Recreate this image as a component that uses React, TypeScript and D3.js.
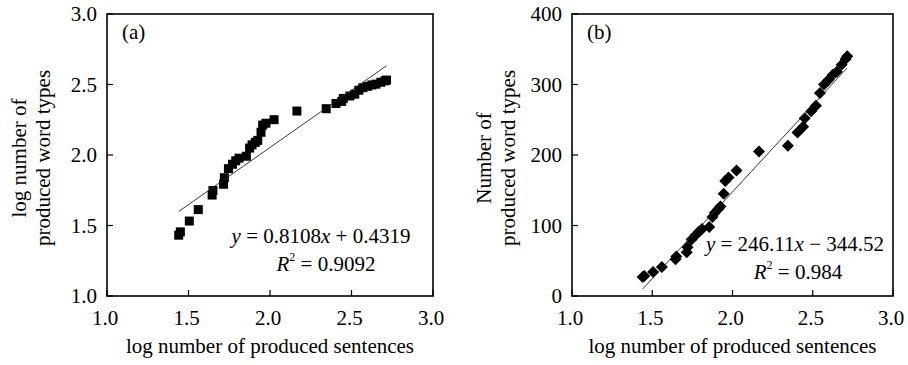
import React from "react";
import * as d3 from "d3";

// Data (x: log number of produced sentences, y: number of produced word types)
const sentencesLog = [1.44, 1.45, 1.505, 1.56, 1.645, 1.65, 1.715, 1.72, 1.745, 1.77, 1.79, 1.81, 1.855, 1.875, 1.89, 1.91, 1.925, 1.945, 1.955, 1.975, 2.025, 2.165, 2.345, 2.405, 2.44, 2.45, 2.49, 2.52, 2.545, 2.57, 2.6, 2.625, 2.65, 2.68, 2.705, 2.715];
const wordTypes = [27, 28.5, 34, 41, 52, 56, 62, 69, 80, 86, 91, 95, 98, 112, 118, 123, 127, 145, 163, 168, 178, 205, 213, 232, 240, 252, 262, 270, 288, 300, 307, 314, 318, 328, 336, 340];

const xTicks = [1.0, 1.5, 2.0, 2.5, 3.0];
const yTicksA = [1.0, 1.5, 2.0, 2.5, 3.0];
const yTicksB = [0, 100, 200, 300, 400];

const fitA = { slope: 0.8108, intercept: 0.4319, r2: "0.9092", a: "0.8108", b: " + 0.4319" };
const fitB = { slope: 246.11, intercept: -344.52, r2: "0.984", a: "246.11", b: " \u2212 344.52" };

const FONT = "Liberation Serif, Times New Roman, serif";
const txt = { fontFamily: FONT };

type Fit = { slope: number; intercept: number; r2: string; a: string; b: string };

type PanelProps = {
  left: number;
  right: number;
  top: number;
  bottom: number;
  yDomain: [number, number];
  yTicks: number[];
  yFmt: (v: number) => string;
  ys: number[];
  marker: "square" | "diamond";
  fit: Fit;
  eqX: number;
  eqY: number;
  r2X: number;
  label: string;
  yLabel: string[];
  yLabelX: number[];
};

function Panel(p: PanelProps) {
  const x = d3.scaleLinear().domain([1, 3]).range([p.left, p.right]);
  const y = d3.scaleLinear().domain(p.yDomain).range([p.bottom, p.top]);
  const xmin = d3.min(sentencesLog) as number;
  const xmax = d3.max(sentencesLog) as number;
  const lineGen = d3
    .line<number>()
    .x((d) => x(d))
    .y((d) => y(p.fit.slope * d + p.fit.intercept));
  const cy = (p.top + p.bottom) / 2 + 3;
  const midX = (p.left + p.right) / 2;
  return (
    <g>
      {xTicks.map((t) => (
        <line key={"xt" + t} x1={x(t)} x2={x(t)} y1={p.bottom} y2={p.bottom - 6} stroke="#000" strokeWidth={1.2} />
      ))}
      {p.yTicks.map((t) => (
        <line key={"yt" + t} x1={p.left} x2={p.left + 6} y1={y(t)} y2={y(t)} stroke="#000" strokeWidth={1.2} />
      ))}
      {sentencesLog.map((sx, i) => {
        const px = x(sx);
        const py = y(p.ys[i]);
        if (p.marker === "square") {
          return <rect key={i} x={px - 4.5} y={py - 4.5} width={9} height={9} fill="#000" />;
        }
        const r = 6;
        return (
          <path key={i} d={`M${px},${py - r}L${px + r},${py}L${px},${py + r}L${px - r},${py}Z`} fill="#000" />
        );
      })}
      <path d={lineGen([xmin, xmax]) || ""} fill="none" stroke="#222" strokeWidth={0.9} />
      <rect x={p.left} y={p.top} width={p.right - p.left} height={p.bottom - p.top} fill="none" stroke="#000" strokeWidth={1.6} />
      {xTicks.map((t) => (
        <text key={"xl" + t} x={x(t) - 2} y={p.bottom + 29} textAnchor="middle" fontSize={21} style={txt}>
          {t.toFixed(1)}
        </text>
      ))}
      {p.yTicks.map((t) => (
        <text key={"yl" + t} x={p.left - 10} y={y(t) + 7} textAnchor="end" fontSize={21} style={txt}>
          {p.yFmt(t)}
        </text>
      ))}
      <text x={midX} y={353} textAnchor="middle" fontSize={21} style={txt}>
        log number of produced sentences
      </text>
      {p.yLabel.map((s, i) => (
        <text
          key={"ylab" + i}
          transform={`translate(${p.yLabelX[i]},${cy}) rotate(-90)`}
          textAnchor="middle"
          fontSize={21}
          style={txt}
        >
          {s}
        </text>
      ))}
      <text x={p.left + 15} y={p.top + 25} fontSize={21} style={txt}>
        {p.label}
      </text>
      <text x={p.eqX} y={p.eqY} textAnchor="middle" fontSize={21} style={txt}>
        <tspan fontStyle="italic">y</tspan>
        <tspan>{" = " + p.fit.a}</tspan>
        <tspan fontStyle="italic">x</tspan>
        <tspan>{p.fit.b}</tspan>
      </text>
      <text x={p.r2X} y={p.eqY + 28} textAnchor="middle" fontSize={21} style={txt}>
        <tspan fontStyle="italic">R</tspan>
        <tspan dy={-10} fontSize={12}>2</tspan>
        <tspan dy={10}>{" = " + p.fit.r2}</tspan>
      </text>
    </g>
  );
}

export default function App() {
  const logTypes = wordTypes.map((v) => Math.log10(v));
  return (
    <svg width={908} height={365} style={{ position: "absolute", left: 0, top: 0, background: "#fff" }}>
      <rect x={0} y={0} width={908} height={365} fill="#fff" />
      <Panel
        left={107}
        right={433}
        top={14}
        bottom={296}
        yDomain={[1, 3]}
        yTicks={yTicksA}
        yFmt={(v) => v.toFixed(1)}
        ys={logTypes}
        marker="square"
        fit={fitA}
        eqX={321}
        eqY={243}
        r2X={326}
        label="(a)"
        yLabel={["log number of", "produced word types"]}
        yLabelX={[26, 50]}
      />
      <Panel
        left={572}
        right={893}
        top={14}
        bottom={296}
        yDomain={[0, 400]}
        yTicks={yTicksB}
        yFmt={(v) => String(v)}
        ys={wordTypes}
        marker="diamond"
        fit={fitB}
        eqX={795}
        eqY={251}
        r2X={798}
        label="(b)"
        yLabel={["Number of", "produced word types"]}
        yLabelX={[491, 515]}
      />
    </svg>
  );
}
